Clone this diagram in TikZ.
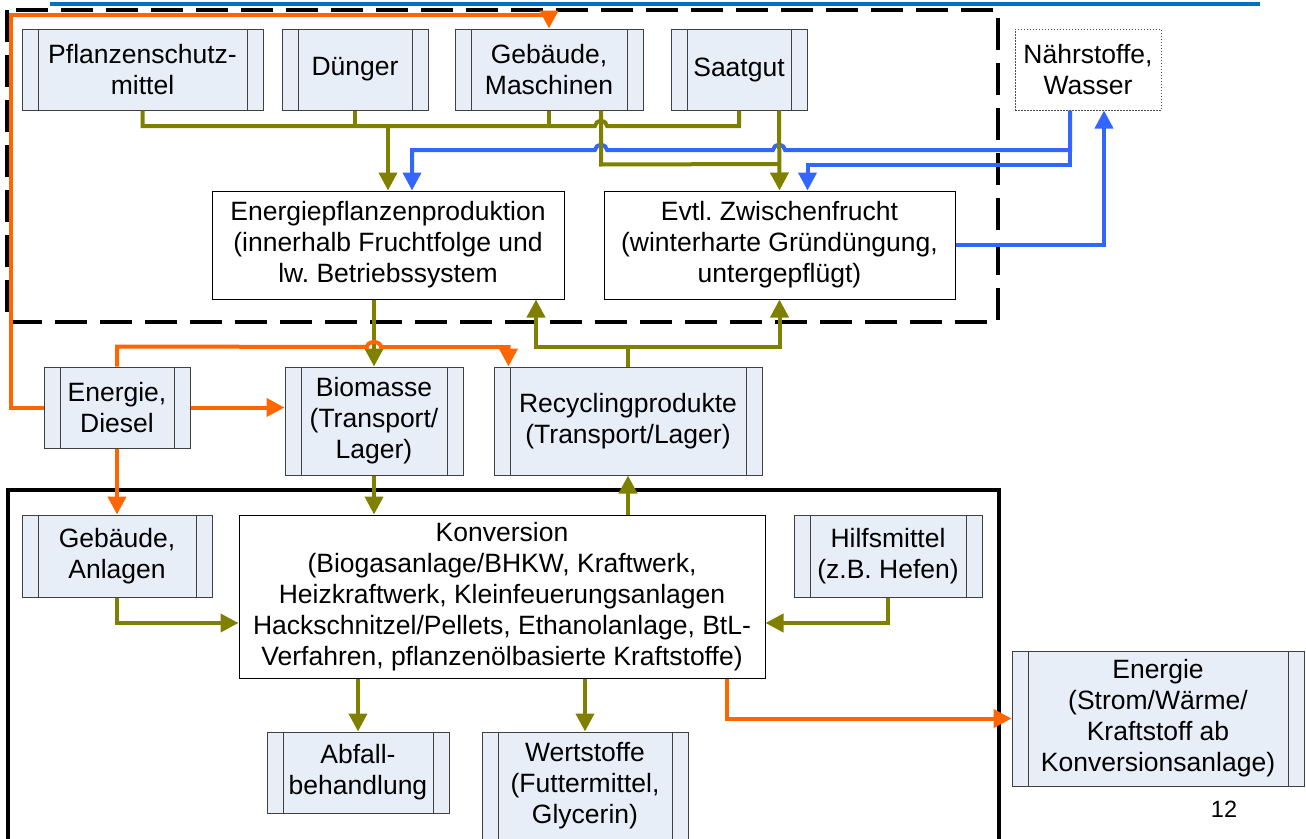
\documentclass[tikz,border=0pt]{standalone}
\usepackage{fontspec}
\setmainfont{Liberation Sans}
\usepackage{xcolor}
\usepackage{tikz}
\usetikzlibrary{arrows.meta}
\frenchspacing

\definecolor{olivgr}{RGB}{128,128,0}
\definecolor{orng}{RGB}{255,102,0}
\definecolor{blau}{RGB}{51,102,255}
\definecolor{kopfblau}{RGB}{0,112,192}
\definecolor{kastenfill}{RGB}{232,238,248}
\definecolor{kastenrand}{RGB}{64,64,64}

\begin{document}
\begin{tikzpicture}[x=1pt,y=1pt,yscale=-1,xscale=1,
  font=\fontsize{26.5}{31}\selectfont,
  proz/.style={draw=kastenrand, line width=1pt, fill=kastenfill, inner sep=0pt, align=center,
    path picture={\draw[kastenrand, line width=1pt]
      ([xshift=16pt]path picture bounding box.north west) -- ([xshift=16pt]path picture bounding box.south west)
      ([xshift=-16pt]path picture bounding box.north east) -- ([xshift=-16pt]path picture bounding box.south east);}},
  kasten/.style={draw=black, line width=1pt, fill=white, inner sep=0pt, align=center},
  punktkasten/.style={draw=black!70, line width=1pt, dash pattern=on 1.5pt off 1.5pt, fill=white, inner sep=0pt, align=center},
  pfeil/.style={-{Triangle[length=18pt,width=18pt]}},
  olv/.style={draw=olivgr, line width=4pt},
  org/.style={draw=orng, line width=4pt},
  blu/.style={draw=blau, line width=4pt}]
\useasboundingbox (0,0) rectangle (1306,838);
\clip (0,0) rectangle (1306,838);

%Frames
\draw [kopfblau, line width=4pt] (50,4) -- (1260,4);
\draw [line width=4pt, dash pattern=on 32pt off 13pt] (7,10) rectangle (998,322);
\draw [line width=4pt] (8,490) rectangle (999,870);

% Text Node
\node [proz, minimum width=241, minimum height=81] (psm) at (142.5,69.5) {Pflanzenschutz-\\mittel};
\node [proz, minimum width=146, minimum height=81] (dueng) at (355,69.5) {Dünger};
\node [proz, minimum width=188, minimum height=81] (gebm) at (549,69.5) {Gebäude,\\Maschinen};
\node [proz, minimum width=136, minimum height=81] (saat) at (739,69.5) {Saatgut};
\node [punktkasten, minimum width=146, minimum height=81] (naehr) at (1088,69.5) {Nährstoffe,\\Wasser};
% Text Node
\node [kasten, minimum width=352, minimum height=108] (epp) at (388,245) {Energiepflanzenproduktion\\(innerhalb Fruchtfolge und\\lw. Betriebssystem};
\node [kasten, minimum width=351, minimum height=108] (zwf) at (779.5,245) {Evtl. Zwischenfrucht\\(winterharte Gründüngung,\\untergepflügt)};
% Text Node
\node [proz, minimum width=146, minimum height=81] (endi) at (117,407.5) {Energie,\\Diesel};
\node [proz, minimum width=178, minimum height=108] (biom) at (374,421) {Biomasse\\(Transport/\\Lager)};
\node [proz, minimum width=268, minimum height=108] (recy) at (628,421) {Recyclingprodukte\\(Transport/Lager)};
% Text Node
\node [proz, minimum width=190, minimum height=82] (geba) at (117,556) {Gebäude,\\Anlagen};
\node [kasten, minimum width=526, minimum height=163] (konv) at (502,596.5) {Konversion\\(Biogasanlage/BHKW, Kraftwerk,\\Heizkraftwerk, Kleinfeuerungsanlagen\\Hackschnitzel/Pellets, Ethanolanlage, BtL-\\Verfahren, pflanzenölbasierte Kraftstoffe)};
\node [proz, minimum width=188, minimum height=82] (hilf) at (888,556) {Hilfsmittel\\(z.B. Hefen)};
\node [proz, minimum width=182, minimum height=81] (abf) at (358,772.5) {Abfall-\\behandlung};
\node [proz, minimum width=206, minimum height=108] (wert) at (585,786) {Wertstoffe\\(Futtermittel,\\Glycerin)};
\node [proz, minimum width=292, minimum height=135] (ener) at (1158,718.5) {Energie\\(Strom/Wärme/\\Kraftstoff ab\\Konversionsanlage)};
\node [font=\fontsize{23.5}{28}\selectfont] (seite) at (1224,809) {12};

%Straight Lines
\draw [olv] (psm.south) |- (595,126) arc[start angle=180, end angle=360, x radius=6, y radius=5] -| (saat.south);
\draw [olv] (dueng.south) -- (dueng.south |- 0,126);
\draw [olv] (gebm.south) -- (gebm.south |- 0,126);
\draw [olv, pfeil] (epp.north |- 0,126) -- (epp.north);
\draw [blu, pfeil] ([xshift=-18pt]naehr.south) |- (785,150) arc[start angle=0, end angle=-180, x radius=6, y radius=5] -- (607,150) arc[start angle=0, end angle=-180, x radius=6, y radius=5] -| ([xshift=24pt]epp.north);
\draw [blu, pfeil] ([xshift=-18pt]naehr.south) -- ++(0,54) -| ([xshift=28pt]zwf.north);
\draw [olv] ([xshift=52pt]gebm.south) -- ++(0,54) -- (zwf.north |- 0,164);
\draw [olv, pfeil] ([xshift=40pt]saat.south) -- (zwf.north);
\draw [blu, pfeil] (zwf.east) -| ([xshift=16pt]naehr.south);

%Straight Lines
\draw [olv, pfeil] (biom.north |- epp.south) -- (biom.north);
\draw [olv, pfeil] (recy.north) -- ++(0,-20) -| ([xshift=148pt]epp.south);
\draw [olv, pfeil] (recy.north) -- ++(0,-20) -| (zwf.south);
\draw [org, pfeil] (endi.north) -- ++(0,-20) -- (367,347) arc[start angle=180, end angle=360, x radius=7, y radius=5] -| ([xshift=15pt]recy.north west);
\draw [org, pfeil] (endi.east) -- (endi.east -| biom.west);
\draw [org, pfeil] (endi.west) -| (11,15) -| (gebm.north);
\draw [org, pfeil] (endi.south) -- (geba.north);
\draw [olv, pfeil] (biom.south) -- (biom.south |- konv.north);
\draw [olv, pfeil] (konv.north -| recy.south) -- (recy.south);

%Straight Lines
\draw [olv, pfeil] (geba.south) |- (konv.west |- 0,623);
\draw [olv, pfeil] (hilf.south) |- (konv.east |- 0,623);
\draw [olv, pfeil] ([xshift=-144pt]konv.south) -- (abf.north);
\draw [olv, pfeil] (wert.north |- konv.south) -- (wert.north);
\draw [org, pfeil] ([xshift=225pt]konv.south) |- (ener.west);

\end{tikzpicture}
\end{document}
